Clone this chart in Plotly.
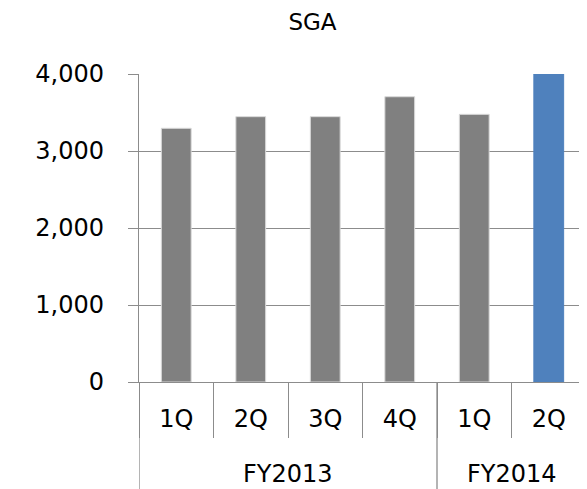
import plotly.graph_objects as go

years = ["FY2013", "FY2013", "FY2013", "FY2013", "FY2014", "FY2014"]
quarters = ["1Q", "2Q", "3Q", "4Q", "1Q", "2Q"]
sga = [3295, 3446, 3446, 3705, 3476, 4000]
bar_colors = ["#808080"] * 5 + ["#4F81BD"]
edge_colors = ["#D9D9D9"] * 5 + ["#4F81BD"]
y_ticks = [0, 1000, 2000, 3000, 4000]

FONT = "DejaVu Sans"
GRID = "#8C8C8C"
LW = 1.3

# page body has an 8px margin, so the figure is 8px smaller than the window
W, H = 579, 481
L, R, T, B = 131, 1, 66, 107
plot_h = H - T - B

keys = [f"{y} {q}" for y, q in zip(years, quarters)]

fig = go.Figure(
    go.Bar(
        x=keys,
        y=sga,
        marker=dict(color=bar_colors, line=dict(color=edge_colors, width=1)),
        width=0.4,
        hoverinfo="y",
    )
)

# group boundaries and centres (category index units) from the year list
groups = []
for i, y in enumerate(years):
    if not groups or groups[-1][0] != y:
        groups.append([y, i, i])
    else:
        groups[-1][2] = i

shapes = []
annotations = []
bounds = sorted({g[1] - 0.5 for g in groups} | {g[2] + 0.5 for g in groups})
for b in bounds:
    shapes.append(dict(
        type="line", xref="x", yref="paper", x0=b, x1=b, y0=0, y1=-(B + 10) / plot_h,
        line=dict(color=GRID, width=LW),
    ))
for name, i0, i1 in groups:
    annotations.append(dict(
        text=name, xref="x", yref="paper", x=(i0 + i1) / 2, y=-91.5 / plot_h,
        xanchor="center", yanchor="middle", showarrow=False,
        font=dict(family=FONT, size=24, color="#000000"),
    ))

fig.update_layout(
    width=W,
    height=H,
    margin=dict(l=L, r=R, t=T, b=B, autoexpand=False),
    paper_bgcolor="white",
    plot_bgcolor="white",
    showlegend=False,
    shapes=shapes,
    annotations=annotations,
    title=dict(
        text="SGA",
        x=304.5 / W,
        xanchor="center",
        y=1 - 14 / H,
        yanchor="middle",
        font=dict(family=FONT, size=23, color="#000000"),
    ),
    font=dict(family=FONT, color="#000000"),
)

fig.update_yaxes(
    range=[0, 4000],
    tickvals=y_ticks,
    tickformat=",d",
    showgrid=True,
    gridcolor=GRID,
    gridwidth=LW,
    showline=True,
    linecolor=GRID,
    linewidth=LW,
    ticks="outside",
    ticklen=10,
    tickcolor=GRID,
    tickwidth=LW,
    tickfont=dict(family=FONT, size=24, color="#000000"),
    zeroline=False,
    ticklabelstandoff=19,
    automargin=False,
)

fig.update_xaxes(
    type="category",
    tickmode="array",
    tickvals=keys,
    ticktext=quarters,
    range=[-0.5, len(keys) - 0.5],
    showline=True,
    linecolor=GRID,
    linewidth=LW,
    ticks="outside",
    tickson="boundaries",
    ticklen=55,
    tickcolor=GRID,
    tickwidth=LW,
    tickfont=dict(family=FONT, size=24, color="#000000"),
    ticklabelstandoff=15,
    showgrid=False,
    automargin=False,
)

fig.write_html("out.html")
